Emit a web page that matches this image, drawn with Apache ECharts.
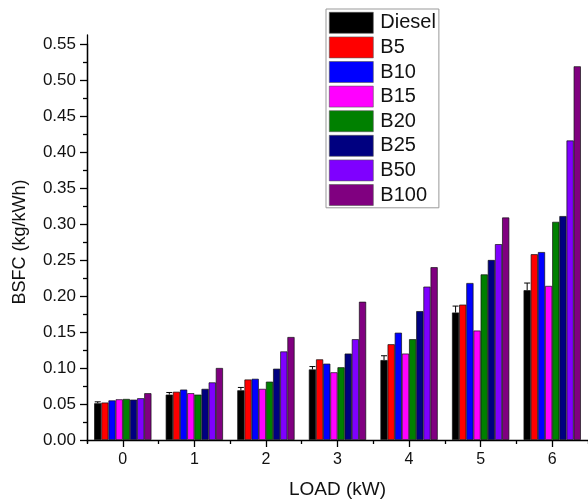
<!DOCTYPE html>
<html>
<head>
<meta charset="utf-8">
<script src="https://cdn.jsdelivr.net/npm/echarts@6/dist/echarts.min.js"></script>
<style>
html,body{margin:0;padding:0;background:#fff;}
#chart{width:588px;height:504px;}
</style>
</head>
<body>
<div id="chart"></div>
<script>
var categories = ['0', '1', '2', '3', '4', '5', '6'];
var seriesNames = ['Diesel', 'B5', 'B10', 'B15', 'B20', 'B25', 'B50', 'B100'];
var diesel = [0.051, 0.063, 0.069, 0.098, 0.111, 0.177, 0.208];
var b5     = [0.052, 0.067, 0.084, 0.112, 0.133, 0.188, 0.258];
var b10    = [0.055, 0.070, 0.085, 0.106, 0.149, 0.218, 0.261];
var b15    = [0.0565, 0.065, 0.071, 0.094, 0.120, 0.152, 0.214];
var b20    = [0.057, 0.063, 0.081, 0.101, 0.140, 0.230, 0.303];
var b25    = [0.056, 0.071, 0.099, 0.120, 0.179, 0.250, 0.311];
var b50    = [0.058, 0.080, 0.123, 0.140, 0.213, 0.272, 0.416];
var b100   = [0.065, 0.100, 0.143, 0.192, 0.240, 0.309, 0.519];
var dieselErr = [0.002, 0.003, 0.004, 0.004, 0.006, 0.009, 0.010];
var yTicks = ['0.00','0.05','0.10','0.15','0.20','0.25','0.30','0.35','0.40','0.45','0.50','0.55'];

var colors = ['#000000', '#ff0000', '#0000ff', '#ff00ff', '#008000', '#000080', '#7f00ff', '#800080'];
var allData = [diesel, b5, b10, b15, b20, b25, b50, b100];
var FONT = 'Liberation Sans, Arial, sans-serif';
var GAP = 0.2;

var chart = echarts.init(document.getElementById('chart'), null, {renderer: 'canvas'});

var series = seriesNames.map(function (name, i) {
  return {
    name: name,
    type: 'bar',
    xAxisIndex: 0,
    yAxisIndex: 0,
    data: allData[i],
    barGap: '0%',
    barCategoryGap: (GAP * 100) + '%',
    itemStyle: {color: colors[i], borderColor: '#111', borderWidth: 0.7},
    emphasis: {disabled: true},
    z: 2
  };
});

series.push({
  type: 'custom',
  name: 'err',
  xAxisIndex: 0,
  yAxisIndex: 0,
  data: diesel.map(function (v, i) { return [i, v, dieselErr[i]]; }),
  renderItem: function (params, api) {
    var idx = api.value(0), v = api.value(1), e = api.value(2);
    var catW = api.size([1, 0])[0];
    var groupW = catW * (1 - GAP);
    var barW = groupW / 8;
    var base = api.coord([idx, v]);
    var top = api.coord([idx, v + e]);
    var x = base[0] - groupW / 2 + barW / 2;
    return {
      type: 'group',
      children: [
        {type: 'line', shape: {x1: x, y1: base[1], x2: x, y2: top[1]}, style: {stroke: '#000', lineWidth: 1}},
        {type: 'line', shape: {x1: x - 3, y1: top[1], x2: x + 3, y2: top[1]}, style: {stroke: '#000', lineWidth: 1}}
      ]
    };
  },
  z: 3,
  silent: true
});

var option = {
  animation: false,
  backgroundColor: '#fff',
  color: colors,
  textStyle: {fontFamily: FONT},
  grid: [
    {left: 87, top: 44, width: 502, height: 399, containLabel: false},
    {left: 87, top: 35, width: 502, height: 408, containLabel: false}
  ],
  legend: {
    data: seriesNames,
    orient: 'vertical',
    left: 326,
    top: 9,
    itemWidth: 44,
    itemHeight: 21,
    itemGap: 3,
    padding: [3, 3, 2, 3],
    borderColor: '#999',
    borderWidth: 1,
    backgroundColor: '#fff',
    icon: 'rect',
    itemStyle: {borderColor: '#555', borderWidth: 0.6},
    textStyle: {fontFamily: FONT, fontSize: 20, color: '#111', padding: [0, 0, 0, 2]},
    selectedMode: false
  },
  xAxis: [
    {
      type: 'category',
      gridIndex: 0,
      data: categories,
      position: 'bottom',
      axisLine: {show: true, lineStyle: {color: '#000', width: 1.3}},
      axisTick: {show: true, alignWithLabel: true, length: 7, lineStyle: {color: '#000', width: 1.3}},
      axisLabel: {show: true, fontSize: 16, color: '#111', margin: 12, fontFamily: FONT},
      splitLine: {show: false},
      name: 'LOAD (kW)',
      nameLocation: 'middle',
      nameGap: 40,
      nameTextStyle: {fontSize: 19, color: '#111', fontFamily: FONT}
    },
    {
      type: 'category',
      gridIndex: 0,
      data: categories,
      position: 'bottom',
      axisLine: {show: false},
      axisTick: {show: true, length: 4, lineStyle: {color: '#000', width: 1.3}},
      axisLabel: {show: false},
      splitLine: {show: false}
    },
    {
      type: 'value',
      gridIndex: 1,
      show: false
    }
  ],
  yAxis: [
    {
      type: 'value',
      gridIndex: 0,
      min: 0,
      max: 0.55,
      interval: 0.05,
      axisLine: {show: true, lineStyle: {color: '#000', width: 1.3}},
      axisTick: {show: true, length: 7, lineStyle: {color: '#000', width: 1.3}},
      minorTick: {show: true, splitNumber: 2, length: 4, lineStyle: {color: '#000', width: 1.3}},
      axisLabel: {
        fontSize: 17, color: '#111', margin: 11, fontFamily: FONT,
        formatter: function (v) { return yTicks[Math.round(v / 0.05)]; }
      },
      splitLine: {show: false},
      name: 'BSFC (kg/kWh)',
      nameLocation: 'middle',
      nameRotate: 90,
      nameGap: 58,
      nameTextStyle: {fontSize: 18, color: '#111', fontFamily: FONT}
    },
    {
      type: 'value',
      gridIndex: 1,
      min: 0,
      max: 1,
      axisLine: {show: true, lineStyle: {color: '#000', width: 1.3}},
      axisTick: {show: false},
      axisLabel: {show: false},
      splitLine: {show: false}
    }
  ],
  series: series
};

chart.setOption(option);
</script>
</body>
</html>
